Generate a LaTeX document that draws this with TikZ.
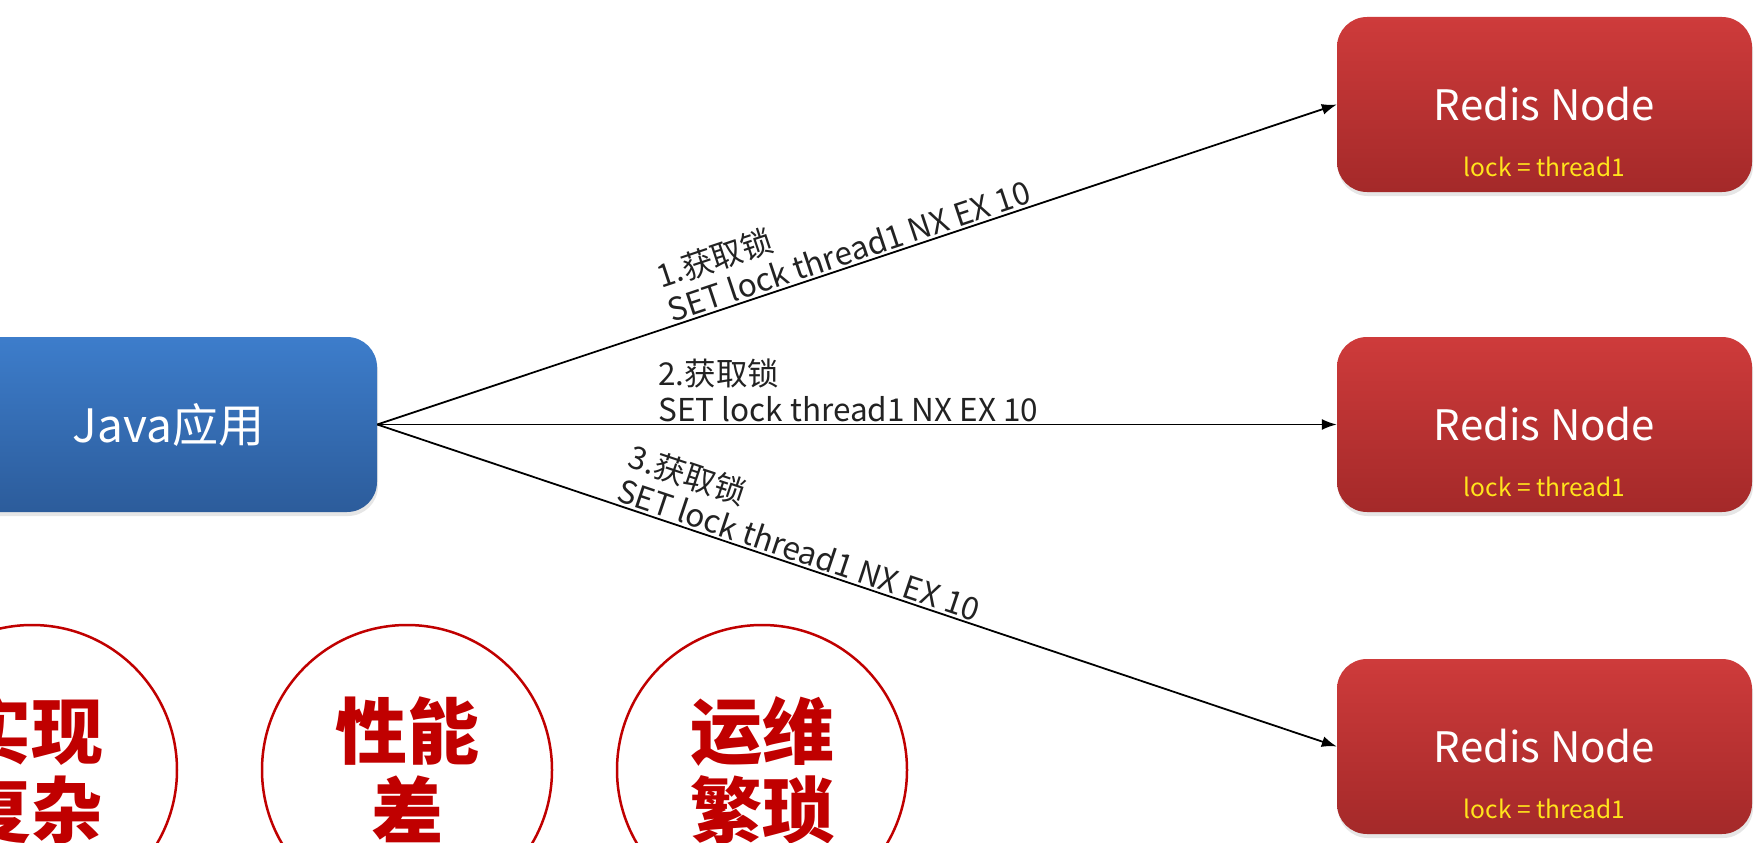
\documentclass[tikz,border=0pt]{standalone}
\usepackage{fontspec}
\setmainfont{Noto Sans CJK SC}
\usetikzlibrary{shadows,arrows.meta}
\definecolor{javatop}{HTML}{3D7DCB}
\definecolor{javabot}{HTML}{2C5C9B}
\definecolor{redistop}{HTML}{CE3B3B}
\definecolor{redisbot}{HTML}{A42929}
\definecolor{lockyellow}{HTML}{FFE41C}
\definecolor{ringred}{HTML}{C00000}
\definecolor{labelgray}{HTML}{222222}

\begin{document}
\begin{tikzpicture}[x=1pt,y=-1pt,
    box/.style={rounded corners=30pt, minimum height=175pt, text=white,
        drop shadow={opacity=0.2, shadow xshift=1pt, shadow yshift=-4pt}},
    javabox/.style={box, minimum width=417pt, top color=javatop, bottom color=javabot,
        font=\fontsize{46}{50}\selectfont},
    redisbox/.style={box, minimum width=415pt, top color=redistop, bottom color=redisbot,
        font=\fontsize{42}{46}\selectfont},
    locktext/.style={text=lockyellow, font=\fontsize{24.5}{28}\selectfont},
    arr/.style={-{Latex[length=15pt,width=11pt]}, line width=1.8pt},
    steplabel/.style={sloped, anchor=south west, align=left, text=labelgray,
        font=\fontsize{31.5}{36}\selectfont, inner sep=2pt},
    ring/.style={circle, draw=ringred, line width=2.5pt, minimum size=290pt,
        text=ringred, align=center, inner sep=0pt,
        font=\bfseries\fontsize{72}{79}\selectfont}]
    \useasboundingbox (0,0) rectangle (1759,843);
    \clip (0,0) rectangle (1759,843);

    % client and redis nodes
    \node[javabox] (java) at (168.5,424.5) {Java应用};
    \node[redisbox] (r1) at (1544.5,104.5) {Redis Node};
    \node[redisbox] (r2) at (1544.5,424.5) {Redis Node};
    \node[redisbox] (r3) at (1544.5,746.5) {Redis Node};
    \foreach \r in {r1,r2,r3}
        \node[locktext] (\r lock) at ([yshift=-62pt]\r.center) {lock = thread1};

    % lock requests
    \draw[arr] (java.east) -- node[steplabel, pos=0.306] {1.获取锁\\SET lock thread1 NX EX 10} (r1.west);
    \draw[arr] (java.east) -- node[steplabel, pos=0.29] {2.获取锁\\SET lock thread1 NX EX 10} (r2.west);
    \draw[arr] (java.east) -- node[steplabel, pos=0.244] {3.获取锁\\SET lock thread1 NX EX 10} (r3.west);

    % drawbacks
    \node[ring] (c1) at (32,770) {实现\\复杂};
    \node[ring] (c2) at (407,770) {性能\\差};
    \node[ring] (c3) at (762,770) {运维\\繁琐};
\end{tikzpicture}
\end{document}
